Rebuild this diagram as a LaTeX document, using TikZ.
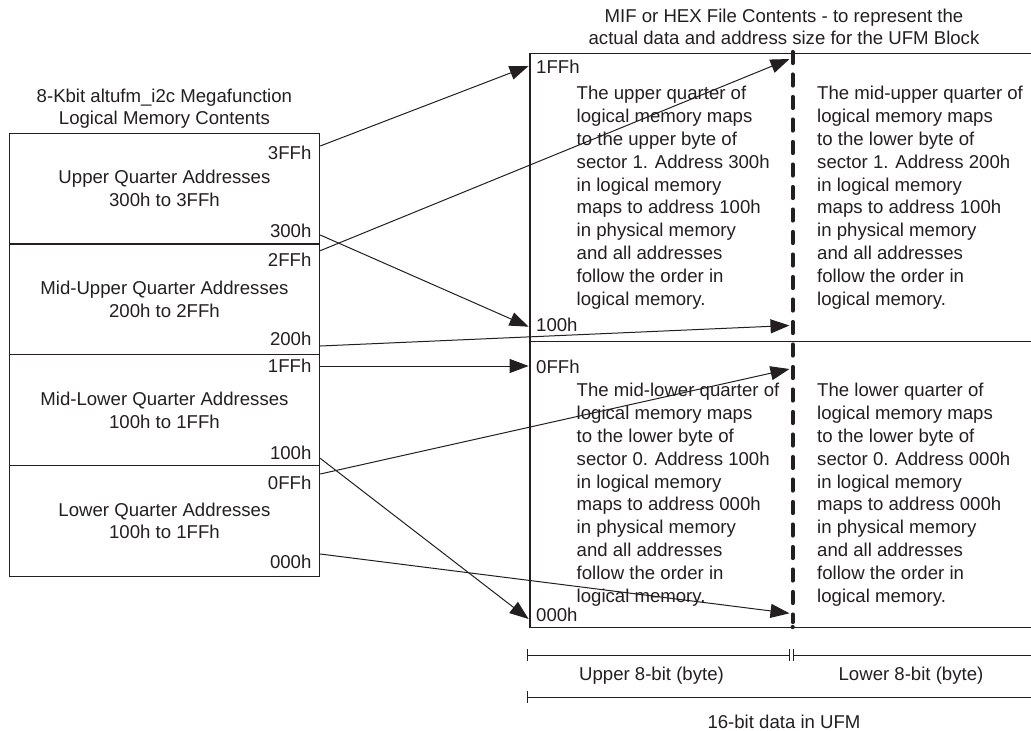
\documentclass[tikz,border=0pt]{standalone}
\usepackage{fontspec}
\setmainfont{Liberation Sans}
\usetikzlibrary{arrows.meta}
\definecolor{ink}{RGB}{35,31,32}
\begin{document}
\begin{tikzpicture}[x=1pt,y=-1pt,
  every node/.style={text=ink, font=\fontsize{18.6}{22.8}\selectfont, inner sep=0pt},
  quarter/.style={draw=ink, line width=1.2pt, minimum width=310.3pt, minimum height=110.7pt, align=center},
  half/.style={draw=ink, line width=1.2pt, minimum width=511.7pt, anchor=north west},
  title/.style={align=center, font=\fontsize{18.6}{21.9}\selectfont},
  addr/.style={anchor=base east},
  phys/.style={anchor=base west},
  note/.style={anchor=north west, align=left},
  map/.style={draw=ink, line width=1pt, -{Triangle[length=19pt,width=14pt]}},
  span/.style={draw=ink, line width=1pt}]
\useasboundingbox (0,0) rectangle (1031,731);
% logical memory (left)
\node[title] (logtitle) at (164.4,108.8) {8-Kbit altufm\_i2c Megafunction\\Logical Memory Contents};
\node[quarter] (uq) at (164.45,188.65) {Upper Quarter Addresses\\300h to 3FFh};
\node[quarter] (muq) at (164.45,299.35) {Mid-Upper Quarter Addresses\\200h to 2FFh};
\node[quarter] (mlq) at (164.45,410.05) {Mid-Lower Quarter Addresses\\100h to 1FFh};
\node[quarter] (lq) at (164.45,520.75) {Lower Quarter Addresses\\100h to 1FFh};
\node[addr] (l3FF) at (311.6,159.7) {3FFh};
\node[addr] (l300) at (311.6,237.7) {300h};
\node[addr] (l2FF) at (311.6,266.7) {2FFh};
\node[addr] (l200) at (311.6,345) {200h};
\node[addr] (l1FF) at (311.6,372.7) {1FFh};
\node[addr] (l100) at (311.6,459.4) {100h};
\node[addr] (l0FF) at (311.6,489.4) {0FFh};
\node[addr] (l000) at (311.6,568.4) {000h};
% UFM block (right)
\node[title] (ufmtitle) at (784,26.8) {MIF or HEX File Contents - to represent the\\actual data and address size for the UFM Block};
\node[half, minimum height=287.7pt] (ufmhi) at (529.3,53) {};
\node[half, minimum height=286pt] (ufmlo) at (529.3,340.7) {};
\node[phys] (p1FFh) at (536,73.7) {1FFh};
\node[phys] (p100h) at (536,331.7) {100h};
\node[phys] (p0FFh) at (536,373.4) {0FFh};
\node[phys] (p000h) at (536,621.7) {000h};
\node[note] (hiup) at (576.5,86.2) {The upper quarter of\\logical memory maps\\to the upper byte of\\sector 1. Address 300h\\in logical memory\\maps to address 100h\\in physical memory\\and all addresses\\follow the order in\\logical memory.};
\node[note] (hilo) at (817,86.2) {The mid-upper quarter of\\logical memory maps\\to the lower byte of\\sector 1. Address 200h\\in logical memory\\maps to address 100h\\in physical memory\\and all addresses\\follow the order in\\logical memory.};
\node[note] (loup) at (576.5,383.2) {The mid-lower quarter of\\logical memory maps\\to the lower byte of\\sector 0. Address 100h\\in logical memory\\maps to address 000h\\in physical memory\\and all addresses\\follow the order in\\logical memory.};
\node[note] (lolo) at (817,383.2) {The lower quarter of\\logical memory maps\\to the lower byte of\\sector 0. Address 000h\\in logical memory\\maps to address 000h\\in physical memory\\and all addresses\\follow the order in\\logical memory.};
% byte divider
\coordinate (divtop) at (792.7,52);
\coordinate (divbot) at (792.7,622);
\coordinate (divdot) at (792.7,627);
\draw[ink, line width=4.2pt, line cap=round, dash pattern=on 11pt off 11.5pt] (divtop) -- (divbot);
\fill[ink] (divdot) circle (2.1pt);
% mapping arrows
\coordinate (s3FF) at (320.2,146);
\coordinate (s300) at (320.2,235);
\coordinate (s2FF) at (320.2,250.7);
\coordinate (s200) at (320.2,346);
\coordinate (s1FF) at (320.2,366);
\coordinate (s100) at (320.2,458.3);
\coordinate (s0FF) at (320.2,474);
\coordinate (s000) at (320.2,554);
\coordinate (t1FF) at (528.6,66);
\coordinate (t100) at (528.6,326.7);
\coordinate (t0FF) at (528.6,366);
\coordinate (t000) at (528.6,619);
\coordinate (d1FF) at (789.5,59);
\coordinate (d100) at (789.5,325.5);
\coordinate (d0FF) at (789.5,369);
\coordinate (d000) at (789.5,613.3);
\draw[map] (s3FF) -- (t1FF);
\draw[map] (s300) -- (t100);
\draw[map] (s2FF) -- (d1FF);
\draw[map] (s200) -- (d100);
\draw[map] (s1FF) -- (t0FF);
\draw[map] (s100) -- (t000);
\draw[map] (s0FF) -- (d0FF);
\draw[map] (s000) -- (d000);
% width of the data
\coordinate (upL) at (527,655);
\coordinate (upR) at (789.5,655);
\coordinate (loL) at (793,655);
\coordinate (loR) at (1045,655);
\coordinate (wdL) at (527,697);
\coordinate (wdR) at (1045,697);
\draw[span, {Bar[width=12pt]}-{Bar[width=12pt]}] (upL) -- (upR);
\draw[span, {Bar[width=12pt]}-] (loL) -- (loR);
\draw[span, {Bar[width=12pt]}-] (wdL) -- (wdR);
\node (upbyte) at (651.5,675.7) {Upper 8-bit (byte)};
\node (lobyte) at (911,676) {Lower 8-bit (byte)};
\node (ufmdata) at (784,721.7) {16-bit data in UFM};
\end{tikzpicture}
\end{document}
